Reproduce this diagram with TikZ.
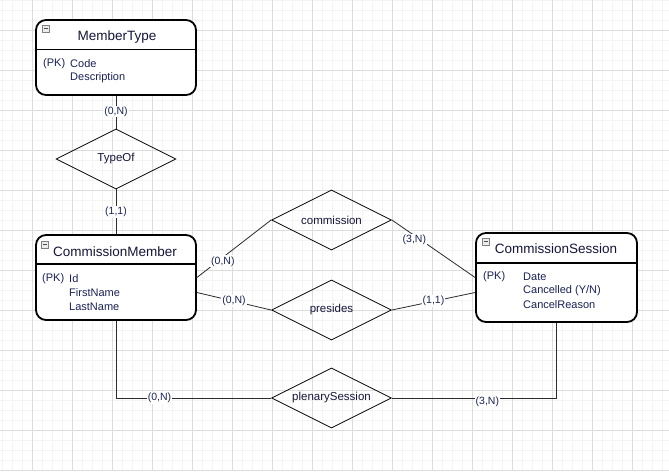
\documentclass[tikz,border=0pt]{standalone}
\usepackage{fontspec}
\setmainfont{Liberation Sans}
\usetikzlibrary{shapes.geometric}
\definecolor{gridmajor}{HTML}{DCDCDC}
\definecolor{gridminor}{HTML}{F4F4F4}
\definecolor{txt}{HTML}{1A2256}
\definecolor{ttl}{HTML}{15153A}
\definecolor{connc}{HTML}{2B2B2B}
\begin{document}
\begin{tikzpicture}[x=1pt,y=-1pt,
 entity/.style={draw=black,line width=1.8pt,rounded corners=10pt,fill=white,minimum width=160pt,inner sep=0pt},
 rel/.style={diamond,draw=black,line width=0.8pt,minimum width=120pt,minimum height=60pt,inner sep=0pt,
   label={[font=\fontsize{11.5}{13}\selectfont,text=ttl,inner sep=0pt]center:#1}},
 card/.style={fill=white,inner sep=1pt,font=\fontsize{10.5}{12}\selectfont,text=txt},
 conn/.style={draw=connc,line width=0.8pt},
 divider/.style={draw=black,line width=1.6pt},
 title/.style={font=\fontsize{13.5}{16}\selectfont,text=ttl,inner sep=0pt},
 field/.style={font=\fontsize{11}{13}\selectfont,text=txt,anchor=west,inner sep=0pt},
 iconbox/.style={draw=gray,fill=gray!15,line width=0.6pt},
 iconbar/.style={draw=gray!60!black,line width=0.9pt}]
\useasboundingbox (0,0) rectangle (669,471);
\fill[white] (0,0) rectangle (669,471);
% grid
\foreach \x in {2,12,...,662} \draw[gridminor,line width=0.6pt] (\x,0) -- (\x,471);
\foreach \y in {0,10,...,470} \draw[gridminor,line width=0.6pt] (0,\y) -- (669,\y);
\foreach \x in {32,72,...,632} \draw[gridmajor,line width=0.8pt] (\x,0) -- (\x,471);
\foreach \y in {30,70,...,470} \draw[gridmajor,line width=0.8pt] (0,\y) -- (669,\y);

% entities
\node[entity,minimum height=75pt] (mt) at (116,57.5) {};
\draw[divider] (36,49.5) -- (196,49.5);
\draw[iconbox] (42,25) rectangle (49,32);
\draw[iconbar] (43.5,28.5) -- (47.5,28.5);
\node[title] (mtt) at (117,37) {MemberType};
\node[field] (mtpk) at (43,64) {(PK)};
\node[field] (mtf1) at (70,64) {Code};
\node[field] (mtf2) at (70,78) {Description};

\node[entity,minimum height=85pt] (cm) at (116,277.5) {};
\draw[divider] (36,264) -- (196,264);
\draw[iconbox] (41,241) rectangle (48,248);
\draw[iconbar] (42.5,244.5) -- (46.5,244.5);
\node[title] (cmt) at (115,252) {CommissionMember};
\node[field] (cmpk) at (42,279) {(PK)};
\node[field] (cmf1) at (69,279) {Id};
\node[field] (cmf2) at (69,293) {FirstName};
\node[field] (cmf3) at (69,307) {LastName};

\node[entity,minimum height=89pt,minimum width=161pt] (cs) at (556.5,277.5) {};
\draw[divider] (476,263) -- (637,263);
\draw[iconbox] (482,238) rectangle (489,245);
\draw[iconbar] (483.5,241.5) -- (487.5,241.5);
\node[title] (cst) at (556,249) {CommissionSession};
\node[field] (cspk) at (483,277) {(PK)};
\node[field] (csf1) at (523,277) {Date};
\node[field] (csf2) at (523,291) {Cancelled (Y/N)};
\node[field] (csf3) at (523,305) {CancelReason};

% relationships
\node[rel=TypeOf] (typeof) at (116,159) {};
\node[rel=commission] (commission) at (331.5,220) {};
\node[rel=presides] (presides) at (331.5,310) {};
\node[rel=plenarySession] (plenary) at (331.5,398) {};

% connectors
\draw[conn] (mt.south) -- node[card,pos=0.48]{(0,N)} (typeof.north);
\draw[conn] (typeof.south) -- node[card,pos=0.5]{(1,1)} (cm.north);
\draw[conn] (cm.east) -- node[card,pos=0.35,yshift=-4pt]{(0,N)} (commission.west);
\draw[conn] (commission.east) -- node[card,pos=0.27,yshift=-4pt]{(3,N)} (cs.west);
\draw[conn] ([yshift=-15pt]cm.east) -- node[card,pos=0.5]{(0,N)} (presides.west);
\draw[conn] (presides.east) -- node[card,pos=0.5]{(1,1)} ([yshift=-15pt]cs.west);
\draw[conn] (cm.south) |- node[card,pos=0.64]{(0,N)} (plenary.west);
\draw[conn] (plenary.east) -| node[card,pos=0.29,yshift=-4pt]{(3,N)} (cs.south);
\end{tikzpicture}
\end{document}
